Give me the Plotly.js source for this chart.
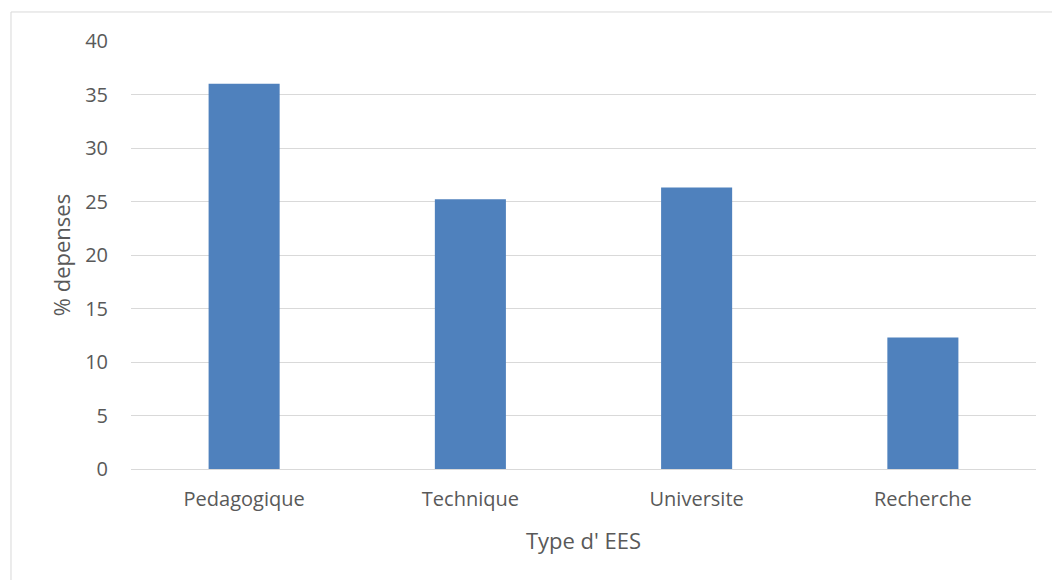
<!DOCTYPE html>
<html>
<head>
<meta charset="utf-8">
<script src="https://cdn.plot.ly/plotly-3.0.1.min.js"></script>
<style>
html,body{margin:0;padding:0;background:#fff;}
#chart{width:1052px;height:580px;}
</style>
</head>
<body>
<div id="chart"></div>
<script>
const categories = ["Pedagogique", "Technique", "Universite", "Recherche"];
const depenses = [36.0, 25.2, 26.3, 12.3];
const yTicks = [0, 5, 10, 15, 20, 25, 30, 35, 40];

const trace = {
  type: "bar",
  x: categories,
  y: depenses,
  marker: {color: "#4F81BD"},
  hoverinfo: "x+y"
};

const layout = {
  width: 1052,
  height: 580,
  margin: {l: 131, r: 16, t: 41, b: 111},
  paper_bgcolor: "#ffffff",
  plot_bgcolor: "#ffffff",
  bargap: 0.686,
  showlegend: false,
  font: {family: "Open Sans, Noto Sans, sans-serif", color: "#595959", size: 20},
  xaxis: {
    type: "category",
    showgrid: false,
    showline: true,
    linecolor: "#D9D9D9",
    linewidth: 1,
    ticks: "",
    ticklabelstandoff: 12,
    tickfont: {size: 20, color: "#595959"},
    title: {text: "Type d' EES", font: {size: 22, color: "#595959"}, standoff: 22},
    automargin: false
  },
  yaxis: {
    range: [0, 40],
    tickvals: yTicks,
    showgrid: true,
    gridcolor: "#D9D9D9",
    gridwidth: 1,
    zeroline: false,
    showline: false,
    ticks: "",
    ticklabelstandoff: 22,
    tickfont: {size: 20, color: "#595959"},
    title: {text: "% depenses", font: {size: 22, color: "#595959"}, standoff: 8},
    automargin: false
  },
  shapes: [
    {type: "line", xref: "paper", yref: "paper", x0: -0.1326, x1: 1.05, y0: 1.0678, y1: 1.0678, line: {color: "#D9D9D9", width: 1}},
    {type: "line", xref: "paper", yref: "paper", x0: -0.1326, x1: -0.1326, y0: 1.0678, y1: -0.3, line: {color: "#D9D9D9", width: 1}}
  ]
};

Plotly.newPlot("chart", [trace], layout, {displayModeBar: false, staticPlot: true});
</script>
</body>
</html>
